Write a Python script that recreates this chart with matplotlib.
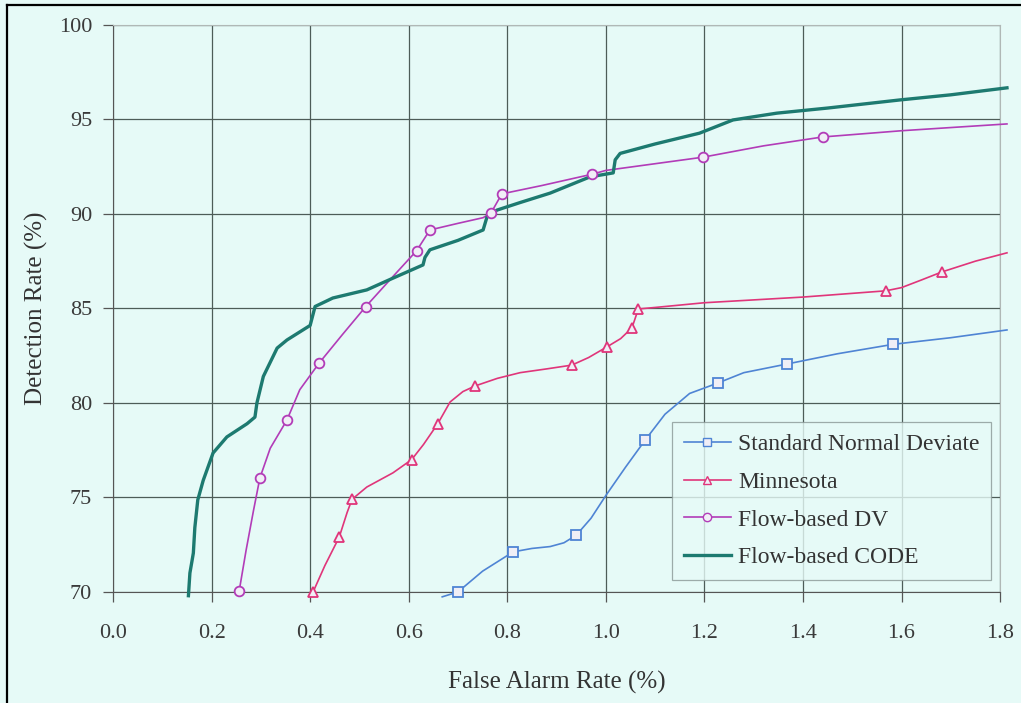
import matplotlib
matplotlib.use("Agg")
import matplotlib.pyplot as plt
from matplotlib.lines import Line2D

# traced curve points (smoothed lines) and the marker points on them
snd_x = [0.668, 0.70, 0.75, 0.812, 0.85, 0.887, 0.915, 0.94, 0.97, 1.0, 1.04, 1.08,
         1.12, 1.17, 1.228, 1.28, 1.368, 1.47, 1.583, 1.70, 1.814]
snd_y = [69.74, 70.0, 71.1, 72.12, 72.3, 72.4, 72.6, 73.0, 73.9, 75.1, 76.6, 78.04,
         79.4, 80.5, 81.06, 81.6, 82.06, 82.6, 83.1, 83.45, 83.86]
snd_mx = [0.70, 0.812, 0.94, 1.08, 1.228, 1.368, 1.583]
snd_my = [70.0, 72.12, 73.0, 78.04, 81.06, 82.06, 83.1]

minn_x = [0.406, 0.43, 0.459, 0.475, 0.485, 0.515, 0.568, 0.606, 0.63, 0.659, 0.684,
          0.71, 0.735, 0.78, 0.826, 0.88, 0.931, 0.965, 1.002, 1.03, 1.053, 1.066,
          1.10, 1.2, 1.4, 1.568, 1.6, 1.64, 1.682, 1.75, 1.814]
minn_y = [70.0, 71.4, 72.9, 74.2, 74.9, 75.55, 76.3, 77.0, 77.8, 78.9, 80.05,
          80.6, 80.9, 81.3, 81.6, 81.8, 82.0, 82.4, 82.96, 83.4, 83.97, 84.97,
          85.05, 85.3, 85.6, 85.93, 86.1, 86.5, 86.93, 87.5, 87.94]
minn_mx = [0.406, 0.459, 0.485, 0.606, 0.659, 0.735, 0.931, 1.002, 1.053, 1.066, 1.568, 1.682]
minn_my = [70.0, 72.9, 74.9, 77.0, 78.9, 80.9, 82.0, 82.96, 83.97, 84.97, 85.93, 86.93]

dv_x = [0.256, 0.27, 0.285, 0.298, 0.319, 0.353, 0.379, 0.418, 0.465, 0.513, 0.565,
        0.616, 0.643, 0.70, 0.751, 0.767, 0.789, 0.87, 0.972, 1.0, 1.197, 1.32, 1.44,
        1.6, 1.814]
dv_y = [70.05, 72.2, 74.3, 76.03, 77.6, 79.1, 80.7, 82.1, 83.6, 85.1, 86.6,
        88.05, 89.15, 89.5, 89.8, 90.05, 91.06, 91.5, 92.1, 92.3, 93.0, 93.6, 94.07,
        94.4, 94.76]
dv_mx = [0.256, 0.298, 0.353, 0.418, 0.513, 0.616, 0.643, 0.767, 0.789, 0.972, 1.197, 1.44]
dv_my = [70.05, 76.03, 79.1, 82.1, 85.1, 88.05, 89.15, 90.05, 91.06, 92.1, 93.0, 94.07]

code_x = [0.153, 0.156, 0.160, 0.163, 0.166, 0.172, 0.183, 0.203, 0.231, 0.272, 0.288,
          0.292, 0.305, 0.333, 0.353, 0.40, 0.41, 0.446, 0.515, 0.568, 0.629, 0.633,
          0.643, 0.70, 0.751, 0.759, 0.779, 0.826, 0.887, 0.968, 1.015, 1.019, 1.029,
          1.10, 1.19, 1.258, 1.347, 1.45, 1.597, 1.70, 1.814]
code_y = [69.8, 71.0, 71.6, 72.06, 73.4, 74.87, 75.9, 77.35, 78.2, 78.9, 79.25,
          80.0, 81.4, 82.9, 83.33, 84.1, 85.1, 85.55, 85.98, 86.6, 87.3, 87.7,
          88.1, 88.6, 89.15, 89.85, 90.2, 90.6, 91.1, 91.96, 92.17, 92.86, 93.2,
          93.7, 94.27, 94.97, 95.33, 95.6, 96.03, 96.3, 96.67]

x_ticks = [0.0, 0.2, 0.4, 0.6, 0.8, 1.0, 1.2, 1.4, 1.6, 1.8]
y_ticks = [70, 75, 80, 85, 90, 95, 100]

BG = "#e6faf7"
MFC = "#f0eef6"
C_SND = "#4f84d4"
C_MINN = "#e0357a"
C_DV = "#b23cb8"
C_CODE = "#1d7a70"

plt.rcParams["font.family"] = ["Liberation Serif", "DejaVu Serif"]

fig = plt.figure(figsize=(10.21, 7.03), dpi=100, facecolor=BG)
ax = fig.add_axes([0.1107, 0.158, 0.8688, 0.8066])
ax.set_facecolor(BG)

def draw(xs, ys, mx, my, color, marker, lw=1.2):
    ax.plot(xs, ys, color=color, lw=lw, clip_on=False, zorder=3)
    if marker:
        ax.plot(mx, my, ls="none", marker=marker, ms=7, mec=color, mfc=MFC,
                mew=1.3, clip_on=False, zorder=4)

draw(snd_x, snd_y, snd_mx, snd_my, C_SND, "s")
draw(minn_x, minn_y, minn_mx, minn_my, C_MINN, "^")
draw(dv_x, dv_y, dv_mx, dv_my, C_DV, "o")
draw(code_x, code_y, None, None, C_CODE, None, lw=2.4)

ax.set_xlim(0, 1.8)
ax.set_ylim(70, 100)
ax.set_xticks(x_ticks)
ax.set_xticklabels([f"{v:.1f}" for v in x_ticks])
ax.set_yticks(y_ticks)
ax.grid(True, color="#4d5c58", lw=0.9)
ax.set_axisbelow(True)
ax.tick_params(axis="both", labelsize=16, labelcolor="#3a3a3a", color="#555555",
               length=7, width=0.9, direction="out")
ax.tick_params(axis="x", pad=16)
ax.tick_params(axis="y", pad=8)
for side in ["left", "bottom"]:
    ax.spines[side].set_color("#555555")
    ax.spines[side].set_linestyle((0, (3, 1)))
for side in ["top", "right"]:
    ax.spines[side].set_color("#b0b8b6")
    ax.spines[side].set_linestyle((0, (2, 1)))

ax.set_xlabel("False Alarm Rate (%)", fontsize=18, color="#333333", labelpad=20)
ax.set_ylabel("Detection Rate (%)", fontsize=18, color="#333333", labelpad=8)

handles = [
    Line2D([], [], color=C_SND, lw=1.2, marker="s", ms=6, mec=C_SND, mfc=MFC),
    Line2D([], [], color=C_MINN, lw=1.2, marker="^", ms=6, mec=C_MINN, mfc=MFC),
    Line2D([], [], color=C_DV, lw=1.2, marker="o", ms=6, mec=C_DV, mfc=MFC),
    Line2D([], [], color=C_CODE, lw=2.4),
]
labels = ["Standard Normal Deviate", "Minnesota", "Flow-based DV", "Flow-based CODE"]
leg = ax.legend(handles, labels, loc="lower right", bbox_to_anchor=(0.99, 0.021),
                borderaxespad=0, fontsize=17, frameon=True, fancybox=False,
                handlelength=2.0, handletextpad=0.3, labelspacing=0.68,
                borderpad=0.5)
leg.get_frame().set_facecolor(BG)
leg.get_frame().set_edgecolor("#8a9896")
leg.get_frame().set_linewidth(0.9)
for t in leg.get_texts():
    t.set_color("#333333")

# scanned frame edges (left and top)
fig.add_artist(Line2D([7 / 1021, 7 / 1021], [0, 1 - 5 / 703], color="black", lw=1.6,
                      transform=fig.transFigure))
fig.add_artist(Line2D([7 / 1021, 1], [1 - 5 / 703, 1 - 5 / 703], color="black", lw=1.6,
                      transform=fig.transFigure))

fig.savefig("out.png", dpi=100, facecolor=BG)
